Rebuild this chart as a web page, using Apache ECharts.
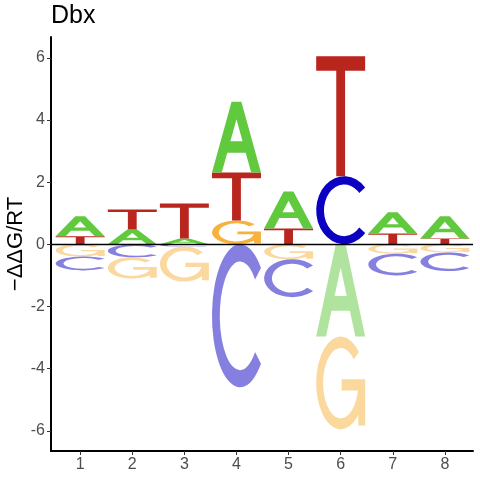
<!DOCTYPE html>
<html>
<head>
<meta charset="utf-8">
<script src="https://cdn.jsdelivr.net/npm/echarts@6/dist/echarts.min.js"></script>
<style>
  html, body { margin: 0; padding: 0; background: #fff; }
  #chart { width: 480px; height: 480px; }
</style>
</head>
<body>
<div id="chart"></div>
<script>
(function () {
  // position along the motif
  const positions = [1, 2, 3, 4, 5, 6, 7, 8];
  // -ddG/RT per base
  const scoreA = [0.64, 0.48, 0.19, 2.28, 1.19, -2.97, 0.68, 0.71];
  const scoreC = [-0.45, -0.42, -0.07, -4.60, -1.22, 2.19, -0.70, -0.60];
  const scoreG = [-0.39, -0.68, -1.13, 0.77, -0.48, -2.98, -0.30, -0.26];
  const scoreT = [0.26, 0.64, 1.12, 1.54, 0.51, 3.86, 0.35, 0.19];
  const yTicks = [-6, -4, -2, 0, 2, 4, 6];

  const bases = ['A', 'C', 'G', 'T'];
  const scores = [scoreA, scoreC, scoreG, scoreT];
  const colors = ['#61C93E', '#0C00C2', '#F6B23D', '#B9261E'];

  // glyph outlines in a 100x100 box, stretched onto each stack slot
  const glyphs = [
    'M0,100 L40,0 H60 L100,100 H80 L68.8,72 H31.2 L20,100 Z M37.6,56 H62.4 L50,25 Z',
    'M87.2,16.5 A50,50 0 1 0 87.2,83.5 L76.7,75.4 A36,38 0 1 1 76.7,24.6 Z',
    'M87.2,16.5 A50,50 0 1 0 99.8,54.4 L85.9,53.3 A36,38 0 1 1 76.7,24.6 Z ' +
      'M52,46 V58 H100 V46 Z M86,46 V96 H100 V46 Z',
    'M0,0 H100 V12 H59 V100 H41 V12 H0 Z'
  ];

  const letterWidth = 0.94;

  const buildStacks = () => {
    const rows = [];
    positions.forEach((pos, i) => {
      const items = bases.map((b, k) => ({ k, v: scores[k][i] }));
      const up = items.filter((d) => d.v > 0).sort((a, b) => a.v - b.v);
      const down = items.filter((d) => d.v < 0).sort((a, b) => b.v - a.v);
      let top = 0;
      up.forEach((d) => {
        rows.push([pos, top, top + d.v, d.k, 0]);
        top += d.v;
      });
      let bottom = 0;
      down.forEach((d) => {
        rows.push([pos, bottom + d.v, bottom, d.k, 1]);
        bottom += d.v;
      });
    });
    return rows;
  };

  const renderLetter = (params, api) => {
    const x = api.value(0);
    const lo = api.value(1);
    const hi = api.value(2);
    const k = api.value(3);
    const neg = api.value(4) === 1;
    const p0 = api.coord([x - letterWidth / 2, hi]);
    const p1 = api.coord([x + letterWidth / 2, lo]);
    return {
      type: 'path',
      shape: {
        pathData: glyphs[k],
        x: p0[0],
        y: p0[1],
        width: p1[0] - p0[0],
        height: p1[1] - p0[1],
        layout: 'cover'
      },
      style: { fill: colors[k], opacity: neg ? 0.5 : 1 }
    };
  };

  const chart = echarts.init(document.getElementById('chart'), null, { renderer: 'canvas' });
  chart.setOption({
    animation: false,
    backgroundColor: '#fff',
    title: {
      text: 'Dbx',
      left: 51,
      top: 4,
      padding: 0,
      textStyle: { fontFamily: 'Liberation Sans, Arial', fontSize: 25, fontWeight: 'normal', color: '#000' }
    },
    grid: { left: 51, right: 7, top: 37, bottom: 29, containLabel: false, outerBoundsMode: 'none' },
    xAxis: {
      type: 'value',
      min: 0.44,
      max: 8.54,
      splitLine: { show: false },
      axisLine: { show: true, onZero: false, lineStyle: { color: '#000', width: 2 } },
      axisTick: { show: true, length: 4, customValues: positions, lineStyle: { color: '#333', width: 1 } },
      axisLabel: {
        customValues: positions,
        margin: 6,
        color: '#4D4D4D',
        fontSize: 16,
        fontFamily: 'Liberation Sans, Arial'
      }
    },
    yAxis: {
      type: 'value',
      min: -6.65,
      max: 6.67,
      name: '\u2212\u0394\u0394G/RT',
      nameLocation: 'middle',
      nameGap: 24,
      nameMoveOverlap: false,
      nameTextStyle: { fontFamily: 'Liberation Sans, Arial', fontSize: 22, color: '#000' },
      splitLine: { show: false },
      axisLine: { show: true, onZero: false, lineStyle: { color: '#000', width: 2 } },
      axisTick: { show: true, length: 4, customValues: yTicks, lineStyle: { color: '#333', width: 1 } },
      axisLabel: {
        customValues: yTicks,
        margin: 6,
        color: '#4D4D4D',
        fontSize: 16,
        fontFamily: 'Liberation Sans, Arial'
      }
    },
    series: [
      {
        type: 'custom',
        renderItem: renderLetter,
        clip: true,
        data: buildStacks(),
        markLine: {
          silent: true,
          symbol: 'none',
          label: { show: false },
          lineStyle: { color: '#000', width: 1.3, type: 'solid' },
          data: [{ yAxis: 0 }]
        }
      }
    ]
  });
})();
</script>
</body>
</html>
